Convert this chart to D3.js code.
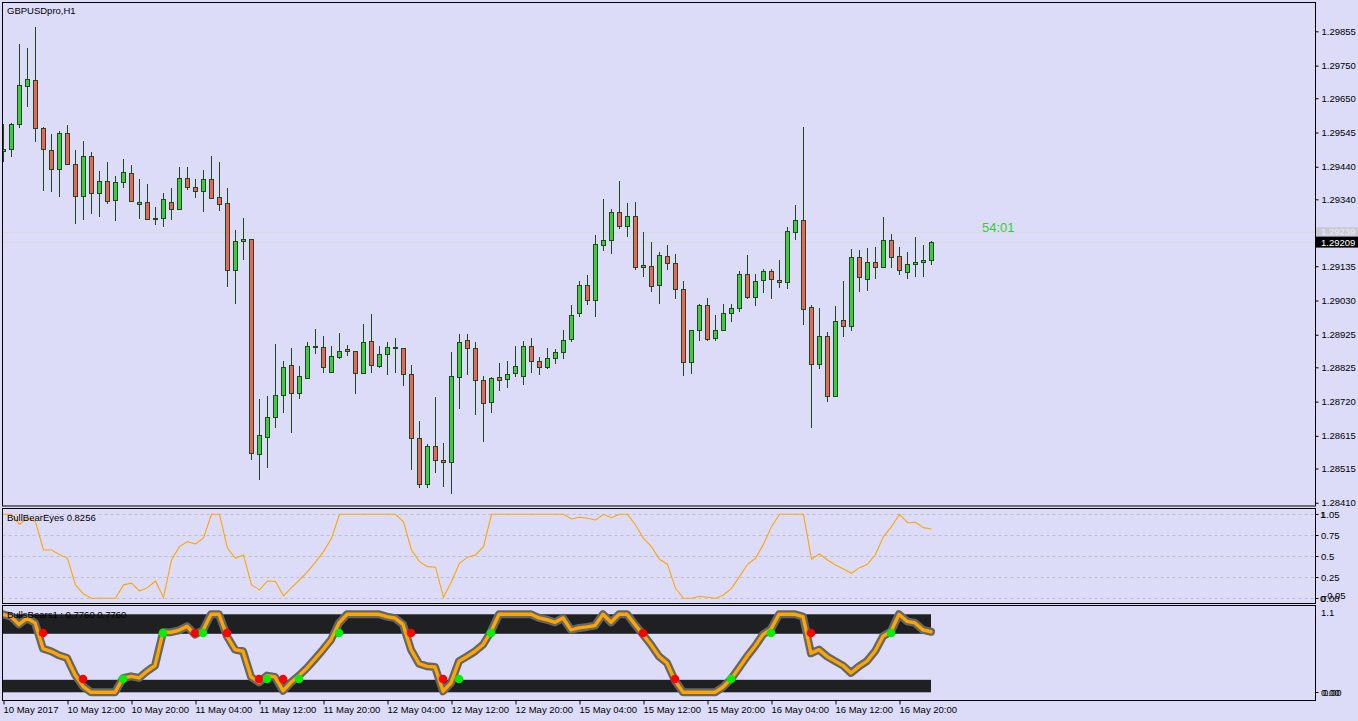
<!DOCTYPE html>
<html><head><meta charset="utf-8">
<script src="https://cdn.jsdelivr.net/npm/d3@7"></script>
<style>
html,body{margin:0;padding:0;background:#DCDCF8;overflow:hidden}
svg{display:block}
text{font-family:"Liberation Sans",Arial,sans-serif}
</style>
</head><body>
<svg id="c" width="1358" height="721"></svg>
<script>
// ---------------- DATA ----------------
const chartTitle = "GBPUSDpro,H1";
const opens = [1.29488,1.29493,1.29570,1.29689,1.29705,1.29558,1.29490,1.29432,1.29542,1.29447,
1.29351,1.29473,1.29358,1.29395,1.29339,1.29392,1.29420,1.29325,1.29331,1.29279,
1.29282,1.29331,1.29309,1.29407,1.29377,1.29365,1.29401,1.29346,1.29328,1.29122,
1.29211,1.29220,1.28558,1.28610,1.28672,1.28739,1.28831,1.28745,1.28791,1.28892,
1.28886,1.28810,1.28856,1.28880,1.28874,1.28807,1.28905,1.28828,1.28865,1.28886,
1.28883,1.28804,1.28607,1.28466,1.28583,1.28540,1.28534,1.28794,1.28908,1.28883,
1.28785,1.28718,1.28794,1.28788,1.28807,1.28797,1.28889,1.28846,1.28825,1.28853,
1.28871,1.28911,1.28991,1.29076,1.29030,1.29199,1.29214,1.29300,1.29257,1.29288,
1.29138,1.29135,1.29076,1.29165,1.29144,1.29064,1.28840,1.28938,1.29015,1.28914,
1.28938,1.28991,1.29006,1.29110,1.29040,1.29092,1.29119,1.29092,1.29086,1.29239,
1.29276,1.29009,1.28834,1.28920,1.28736,1.28969,1.28951,1.29162,1.29095,1.29147,
1.29132,1.29214,1.29165,1.29116,1.29141,1.29147,1.29153];
const highs = [1.29571,1.29573,1.29816,1.29803,1.29867,1.29561,1.29540,1.29549,1.29568,1.29491,
1.29519,1.29484,1.29427,1.29453,1.29411,1.29464,1.29445,1.29402,1.29387,1.29316,
1.29359,1.29375,1.29439,1.29439,1.29402,1.29430,1.29473,1.29456,1.29374,1.29246,
1.29283,1.29220,1.28728,1.28737,1.28896,1.28846,1.28884,1.28828,1.28902,1.28942,
1.28921,1.28890,1.28930,1.28893,1.28874,1.28958,1.28988,1.28890,1.28903,1.28915,
1.28883,1.28831,1.28660,1.28589,1.28733,1.28592,1.28871,1.28927,1.28927,1.28902,
1.28797,1.28794,1.28837,1.28846,1.28889,1.28905,1.28914,1.28856,1.28883,1.28880,
1.28938,1.29015,1.29089,1.29107,1.29230,1.29340,1.29309,1.29395,1.29328,1.29331,
1.29239,1.29208,1.29178,1.29199,1.29171,1.29089,1.28941,1.29018,1.29037,1.28987,
1.29018,1.29018,1.29119,1.29168,1.29110,1.29125,1.29125,1.29153,1.29255,1.29322,
1.29562,1.29015,1.29006,1.28932,1.29012,1.29089,1.29187,1.29184,1.29190,1.29193,
1.29285,1.29233,1.29193,1.29178,1.29224,1.29199,1.29211];
const lows = [1.29459,1.29474,1.29563,1.29627,1.29520,1.29369,1.29366,1.29351,1.29447,1.29266,
1.29280,1.29299,1.29289,1.29330,1.29277,1.29379,1.29336,1.29283,1.29279,1.29263,
1.29259,1.29279,1.29309,1.29372,1.29348,1.29305,1.29343,1.29308,1.29075,1.29023,
1.29158,1.28543,1.28484,1.28520,1.28643,1.28689,1.28628,1.28732,1.28791,1.28868,
1.28812,1.28810,1.28853,1.28862,1.28747,1.28807,1.28812,1.28825,1.28804,1.28812,
1.28772,1.28514,1.28459,1.28457,1.28503,1.28460,1.28439,1.28701,1.28804,1.28681,
1.28598,1.28687,1.28755,1.28764,1.28800,1.28773,1.28810,1.28804,1.28822,1.28837,
1.28853,1.28905,1.28981,1.29018,1.28981,1.29184,1.29175,1.29251,1.29227,1.29128,
1.29104,1.29058,1.29021,1.29128,1.29037,1.28802,1.28807,1.28908,1.28908,1.28908,
1.28938,1.28966,1.28997,1.29037,1.29015,1.29055,1.29037,1.29070,1.29067,1.29220,
1.28957,1.28643,1.28822,1.28721,1.28736,1.28920,1.28941,1.29058,1.29061,1.29098,
1.29132,1.29132,1.29110,1.29098,1.29104,1.29104,1.29141];
const closes = [1.29494,1.29570,1.29692,1.29708,1.29558,1.29493,1.29432,1.29542,1.29447,1.29351,
1.29473,1.29358,1.29395,1.29336,1.29392,1.29423,1.29336,1.29331,1.29279,1.29282,
1.29340,1.29309,1.29407,1.29377,1.29365,1.29401,1.29343,1.29325,1.29123,1.29211,
1.29220,1.28564,1.28617,1.28672,1.28739,1.28825,1.28745,1.28800,1.28892,1.28889,
1.28825,1.28859,1.28874,1.28874,1.28807,1.28902,1.28831,1.28865,1.28886,1.28883,
1.28804,1.28607,1.28466,1.28583,1.28540,1.28534,1.28800,1.28902,1.28883,1.28785,
1.28715,1.28791,1.28785,1.28804,1.28828,1.28889,1.28846,1.28825,1.28853,1.28871,
1.28908,1.28987,1.29076,1.29030,1.29202,1.29214,1.29300,1.29257,1.29288,1.29132,
1.29132,1.29073,1.29168,1.29144,1.29064,1.28840,1.28938,1.29015,1.28911,1.28941,
1.28991,1.29006,1.29110,1.29040,1.29089,1.29119,1.29095,1.29086,1.29242,1.29276,
1.29003,1.28834,1.28920,1.28736,1.28966,1.28951,1.29162,1.29101,1.29147,1.29132,
1.29214,1.29162,1.29122,1.29141,1.29147,1.29153,1.29209];

const bidPrice = 1.29209;
const askPrice = 1.29239;
const countdown = "54:01";
const priceTicks = [1.29855,1.29750,1.29650,1.29545,1.29440,1.29340,1.29135,1.29030,1.28925,1.28825,1.28720,1.28615,1.28515,1.28410];
const timeLabels = ["10 May 2017","10 May 12:00","10 May 20:00","11 May 04:00","11 May 12:00","11 May 20:00","12 May 04:00","12 May 12:00","12 May 20:00","15 May 04:00","15 May 12:00","15 May 20:00","16 May 04:00","16 May 12:00","16 May 20:00"];
const timeLabelBars = [0,8,16,24,32,40,48,56,64,72,80,88,96,104,112];

// BullBearEyes
const bbeName = "BullBearEyes 0.8256";
const bbeValues = [1.0,1.0,0.88,0.96,0.91,0.575,0.575,0.52,0.476,0.16,
0.05,0,0,0,0,0.16,0.18,0.087,0.127,0.206,
0.008,0.456,0.615,0.675,0.647,0.72,1.0,1.0,0.595,0.476,
0.516,0.16,0.1,0.206,0.2,0.03,0.127,0.218,0.317,0.43,
0.556,0.714,1.0,1.0,1.0,1.0,1.0,1.0,1.0,1.0,
0.91,0.575,0.437,0.377,0.37,0.012,0.2,0.417,0.49,0.516,
0.615,1.0,1.0,1.0,1.0,1.0,1.0,1.0,1.0,1.0,
1.0,0.944,0.964,0.952,0.933,1.0,0.96,1.0,1.0,0.873,
0.714,0.615,0.464,0.405,0.119,0,0,0.024,0.012,0,
0.04,0.119,0.258,0.405,0.476,0.643,0.853,1.0,1.0,1.0,
1.0,0.468,0.528,0.456,0.397,0.349,0.298,0.365,0.405,0.524,
0.734,0.853,1.0,0.9,0.905,0.841,0.8256];
const bbeLevels = [1.0,0.75,0.5,0.25,0];
const bbeAxisLabels = ["1.05","0.75","0.5","0.25","0.00"];

// BullsBears1
const bbsName = "BullsBears1 :  0.7760 0.7760";
const bbsValues = [1.0,0.97,0.87,0.95,0.89,0.56,0.526,0.474,0.44,0.226,
0.077,0,0,0,0,0.18,0.205,0.184,0.27,0.342,
0.77,0.77,0.795,0.846,0.74,0.795,1.0,1.0,0.718,0.547,
0.526,0.197,0.128,0.214,0.197,0.02,0.128,0.214,0.312,0.427,
0.547,0.675,0.889,1.0,1.0,1.0,1.0,1.0,0.97,0.95,
0.87,0.547,0.367,0.333,0.325,0.013,0.12,0.4,0.46,0.526,
0.61,0.78,1.0,1.0,1.0,1.0,1.0,0.953,0.93,0.897,
0.953,0.80,0.825,0.838,0.855,1.0,0.897,1.0,1.0,0.868,
0.74,0.61,0.46,0.376,0.15,0,0,0,0,0,
0.068,0.17,0.312,0.46,0.59,0.74,0.81,1.0,1.0,1.0,
0.97,0.5,0.547,0.46,0.4,0.342,0.248,0.333,0.4,0.526,
0.718,0.78,1.0,0.91,0.889,0.80,0.776];
const bandHigh = [0.75,1.0];
const bandLow = [0.0,0.16];
const greenDotBars = [15,20,25,33,37,42,57,61,91,96,111];
const greenDotLevels = [0.17,0.76,0.76,0.17,0.17,0.76,0.17,0.76,0.17,0.76,0.76];
const redDotBars = [5,10,24,28,32,35,51,55,80,84,101];
const redDotLevels = [0.76,0.17,0.76,0.76,0.17,0.17,0.76,0.17,0.76,0.17,0.76];

// ---------------- DRAW ----------------
const W=1358,H=721;
const BG="#DCDCF8";
const svg=d3.select("#c");
svg.append("rect").attr("width",W).attr("height",H).attr("fill",BG);

const LX=2.5, RX=1315.5;
const mainTop=2.5, mainBot=506;
const p1Top=508.5, p1Bot=603.5;
const p2Top=605.5, p2Bot=700.5;
const nBars = closes.length;

const x = d3.scaleLinear().domain([0, nBars-1]).range([3, 931]);
const yMain = d3.scaleLinear().domain([1.28400, 1.29945]).range([506, 2]);
const y1 = d3.scaleLinear().domain([-0.0595, 1.069]).range([603.3, 508.5]);
const y2 = d3.scaleLinear().domain([-0.0987, 1.11]).range([700, 605.7]);

const defs=svg.append("defs");
function clip(id,y0,y1_){defs.append("clipPath").attr("id",id).append("rect")
  .attr("x",LX).attr("y",y0).attr("width",RX-LX).attr("height",y1_-y0);}
clip("cm",mainTop,mainBot); clip("c1",p1Top,p1Bot); clip("c2",p2Top,p2Bot);

// main panel
const gm=svg.append("g").attr("clip-path","url(#cm)");
// ask / bid lines
[askPrice,bidPrice].forEach(p=>{
  const yy=Math.round(yMain(p))+0.5;
  gm.append("line").attr("x1",LX).attr("x2",RX).attr("y1",yy).attr("y2",yy)
    .attr("stroke","#D9D9E0").attr("stroke-width",1);
});
const EDGE="#1F4A1F", BULL="#3FCB3F", BEAR="#EC6459";
const candles=d3.range(nBars).map(i=>({i,o:opens[i],h:highs[i],l:lows[i],c:closes[i]}));
const cg=gm.selectAll("g.cd").data(candles).join("g");
cg.append("line")
  .attr("x1",d=>Math.round(x(d.i))+0.5).attr("x2",d=>Math.round(x(d.i))+0.5)
  .attr("y1",d=>Math.round(yMain(d.h))).attr("y2",d=>Math.round(yMain(d.l))+1)
  .attr("stroke",EDGE).attr("stroke-width",1);
cg.append("rect")
  .attr("x",d=>Math.round(x(d.i))-1.5).attr("width",4)
  .attr("y",d=>Math.round(yMain(Math.max(d.o,d.c)))+0.5)
  .attr("height",d=>Math.max(1,Math.round(yMain(Math.min(d.o,d.c)))-Math.round(yMain(Math.max(d.o,d.c)))))
  .attr("fill",d=>d.c>=d.o?BULL:BEAR).attr("stroke",EDGE).attr("stroke-width",1);

gm.append("text").attr("x",982).attr("y",232).attr("font-size",13)
  .attr("fill","#32CD32").text(countdown);
svg.append("text").attr("x",7).attr("y",14).attr("font-size",9.5).attr("fill","#000").text(chartTitle);

// panel 1
const g1=svg.append("g").attr("clip-path","url(#c1)");
bbeLevels.forEach(v=>{
  const yy=Math.round(y1(v))+0.5;
  g1.append("line").attr("x1",LX).attr("x2",RX).attr("y1",yy).attr("y2",yy)
   .attr("stroke","#BEBEC4").attr("stroke-dasharray","3,3").attr("stroke-width",1);
});
g1.append("path").datum(bbeValues)
  .attr("d",d3.line().x((d,i)=>Math.round(x(i))+0.5).y(d=>y1(d)))
  .attr("fill","none").attr("stroke","#FFA500").attr("stroke-width",1.1);
svg.append("text").attr("x",7).attr("y",521).attr("font-size",9.5).attr("fill","#000").text(bbeName);

// panel 2
const g2=svg.append("g").attr("clip-path","url(#c2)");
[bandHigh,bandLow].forEach(b=>{
  g2.append("rect").attr("x",LX).attr("width",x(nBars-1)-LX)
    .attr("y",y2(b[1])).attr("height",y2(b[0])-y2(b[1])).attr("fill","#1F2022");
});
const ln2=d3.line().x((d,i)=>x(i)).y(d=>y2(d));
g2.append("path").datum(bbsValues).attr("d",ln2).attr("fill","none")
  .attr("stroke","#666666").attr("stroke-width",8).attr("stroke-linejoin","round").attr("stroke-linecap","round");
g2.append("path").datum(bbsValues).attr("d",ln2).attr("fill","none")
  .attr("stroke","#FFA500").attr("stroke-width",3.4).attr("stroke-linejoin","round").attr("stroke-linecap","round");
svg.append("text").attr("x",7).attr("y",618).attr("font-size",9.5).attr("fill","#000").text(bbsName);
g2.selectAll("circle.r").data(redDotBars).join("circle")
  .attr("cx",d=>x(d)).attr("cy",(d,k)=>y2(redDotLevels[k])).attr("r",4.3).attr("fill","#FF0000");
g2.selectAll("circle.g").data(greenDotBars).join("circle")
  .attr("cx",d=>x(d)).attr("cy",(d,k)=>y2(greenDotLevels[k])).attr("r",4.3).attr("fill","#00F000");

// borders
const bd=svg.append("g").attr("fill","none").attr("stroke","#000").attr("stroke-width",1);
[[mainTop,mainBot],[p1Top,p1Bot],[p2Top,p2Bot]].forEach(([a,b])=>{
  bd.append("rect").attr("x",LX).attr("y",a).attr("width",RX-LX).attr("height",b-a);
});

// price axis
const ax=svg.append("g").attr("transform",`translate(${RX},0)`)
  .call(d3.axisRight(yMain).tickValues(priceTicks).tickFormat(d3.format(".5f")).tickSize(3).tickPadding(3));
ax.select(".domain").remove();
ax.selectAll("text").attr("font-size",9.5).attr("font-family","Liberation Sans, Arial, sans-serif").attr("fill","#000");
ax.selectAll("line").attr("stroke","#000");

// ask/bid labels
const askY=yMain(askPrice), bidY=yMain(bidPrice);
svg.append("rect").attr("x",RX+0.5).attr("y",askY-5).attr("width",W-RX).attr("height",9).attr("fill","#C9C9D6");
svg.append("text").attr("x",1321).attr("y",askY+3).attr("font-size",9.5).attr("fill","#ECECF4").text(d3.format(".5f")(askPrice));
svg.append("rect").attr("x",RX+0.5).attr("y",bidY-5.5).attr("width",W-RX).attr("height",11).attr("fill","#000");
svg.append("text").attr("x",1321).attr("y",bidY+3.5).attr("font-size",9.5).attr("fill","#FFF").text(d3.format(".5f")(bidPrice));

// panel 1 axis
const a1=svg.append("g");
bbeLevels.forEach((v,k)=>{
  const yy=y1(v);
  a1.append("line").attr("x1",RX).attr("x2",RX+3).attr("y1",Math.round(yy)+0.5).attr("y2",Math.round(yy)+0.5).attr("stroke","#000");
  a1.append("text").attr("x",1321).attr("y",yy+(k===0?4:3.5)).attr("font-size",9.5).text(bbeAxisLabels[k]);
});
a1.append("text").attr("x",1320).attr("y",y1(1)+4).attr("font-size",9.5).text("1");
a1.append("text").attr("x",1320).attr("y",y1(0)+3.5).attr("font-size",9.5).text("0");
a1.append("text").attr("x",1324).attr("y",y1(0)+0.5).attr("font-size",9.5).text("-0.05");

// panel 2 axis
const a2=svg.append("g");
a2.append("text").attr("x",1321).attr("y",y2(1.1)+10).attr("font-size",9.5).text("1.1");
a2.append("text").attr("x",1321).attr("y",y2(0)+3.5).attr("font-size",9.5).text("0.00");
a2.append("text").attr("x",1323).attr("y",y2(0)+3.5).attr("font-size",9.5).text("0.00");
a2.append("line").attr("x1",RX).attr("x2",RX+3).attr("y1",Math.round(y2(0))+0.5).attr("y2",Math.round(y2(0))+0.5).attr("stroke","#000");

// time axis
const tx=svg.append("g").attr("transform",`translate(0,${p2Bot})`)
  .call(d3.axisBottom(x).tickValues(timeLabelBars).tickFormat((d,k)=>timeLabels[k]).tickSize(4).tickPadding(2));
tx.select(".domain").remove();
tx.selectAll("line").attr("stroke","#000").attr("transform","translate(0.5,0)");
tx.selectAll("text").attr("text-anchor","start").attr("font-size",9.5)
  .attr("font-family","Liberation Sans, Arial, sans-serif").attr("fill","#000").attr("dx",0);
</script>
</body></html>
